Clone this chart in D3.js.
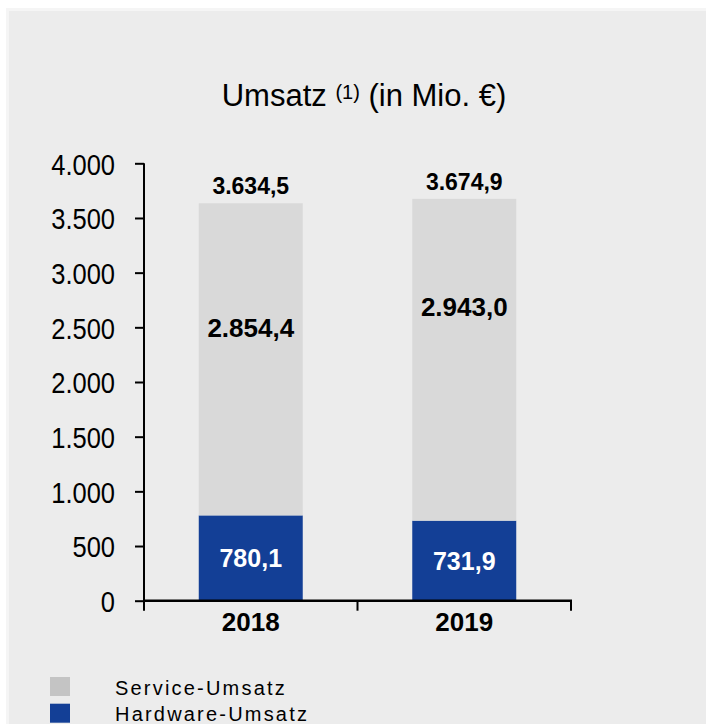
<!DOCTYPE html>
<html>
<head>
<meta charset="utf-8">
<script src="https://cdn.jsdelivr.net/npm/d3@7"></script>
<style>
  body { margin: 0; background: #fff; }
  svg { display: block; }
</style>
</head>
<body>
<div id="chart"></div>
<script>
// data
var years = ['2018', '2019']
var hardware = [780.1, 731.9]
var service = [2854.4, 2943.0]
var totals = [3634.5, 3674.9]
var yTicks = [0, 500, 1000, 1500, 2000, 2500, 3000, 3500, 4000]
var seriesNames = ['Service-Umsatz', 'Hardware-Umsatz']

// where the service label sits (in axis units)
var serviceLabelAt = [2500, 2685]

var width = 706
var height = 724
var blue = '#133f96'
var grey = '#d9d9d9'
var greyKey = '#c4c4c4'

var de = d3.formatLocale({ decimal: ',', thousands: '.', grouping: [3], currency: ['', ' €'] })
var fmtTick = de.format(',.0f')
var fmtVal = de.format(',.1f')

var svg = d3.select('#chart').append('svg')
    .attr('width', width)
    .attr('height', height)

// panel background
svg.append('rect')
    .attr('x', 7.5).attr('y', 9.5)
    .attr('width', width).attr('height', height)
    .attr('fill', '#ececec')
    .attr('stroke', '#f5f5f5')
    .attr('stroke-width', 3)

// title
var title = svg.append('text')
    .attr('x', 364)
    .attr('y', 106)
    .attr('text-anchor', 'middle')
    .style('font-family', 'Liberation Sans, Arial, sans-serif')
    .style('font-size', '31px')
    .attr('fill', '#000')
title.append('tspan').text('Umsatz ')
title.append('tspan').attr('dy', -7).style('font-size', '20px').text('(1)')
title.append('tspan').attr('dy', 7).text(' (in Mio. €)')

var y = d3.scaleLinear().domain([0, 4000]).range([600.7, 163.3])
var x = d3.scaleBand().domain(years).range([144, 571]).padding(0)
var barW = x.bandwidth() * 0.487

// y axis (labels squeezed to look like a narrow face)
var yAxis = svg.append('g')
    .attr('transform', 'translate(144,0)')
    .call(d3.axisLeft(y).tickValues(yTicks).tickFormat(fmtTick).tickSize(9).tickPadding(20))
yAxis.select('.domain').attr('d', 'M0,' + y(4000) + 'V' + y(0)).attr('stroke-width', 2)
yAxis.selectAll('.tick line').attr('stroke-width', 2)
yAxis.selectAll('.tick text')
    .attr('x', 0)
    .attr('transform', 'translate(-29,0) scale(0.85,1)')
    .style('font-family', 'Liberation Sans, Arial, sans-serif')
    .style('font-size', '30px')
    .attr('fill', '#000')
    .attr('dy', '0.36em')

// bars
var bars = svg.append('g')
bars.selectAll('rect.hw')
    .data(years)
    .enter().append('rect')
    .attr('class', 'hw')
    .attr('x', function (d) { return x(d) + (x.bandwidth() - barW) / 2 })
    .attr('width', barW)
    .attr('y', function (d, i) { return y(hardware[i]) })
    .attr('height', function (d, i) { return y(0) - y(hardware[i]) })
    .attr('fill', blue)
bars.selectAll('rect.sv')
    .data(years)
    .enter().append('rect')
    .attr('class', 'sv')
    .attr('x', function (d) { return x(d) + (x.bandwidth() - barW) / 2 })
    .attr('width', barW)
    .attr('y', function (d, i) { return y(hardware[i] + service[i]) })
    .attr('height', function (d, i) { return y(hardware[i]) - y(hardware[i] + service[i]) })
    .attr('fill', grey)

// x axis: line with ticks on the category edges
var xAxis = svg.append('g').attr('transform', 'translate(0,' + y(0) + ')')
xAxis.append('line')
    .attr('x1', 143).attr('x2', 572)
    .attr('stroke', '#000').attr('stroke-width', 2.5)
var edges = years.map(function (d) { return x(d) }).concat([x.range()[1]])
xAxis.selectAll('line.edge')
    .data(edges)
    .enter().append('line')
    .attr('class', 'edge')
    .attr('x1', function (d) { return d }).attr('x2', function (d) { return d })
    .attr('y1', 0).attr('y2', 10)
    .attr('stroke', '#000').attr('stroke-width', 2)
xAxis.selectAll('text')
    .data(years)
    .enter().append('text')
    .attr('x', function (d) { return x(d) + x.bandwidth() / 2 })
    .attr('y', 30)
    .attr('text-anchor', 'middle')
    .style('font-family', 'Liberation Sans, Arial, sans-serif')
    .style('font-size', '26px')
    .style('font-weight', 'bold')
    .text(function (d) { return d })

// value labels
var labels = svg.append('g')
    .style('font-family', 'Liberation Sans, Arial, sans-serif')
    .style('font-weight', 'bold')
    .attr('text-anchor', 'middle')
labels.selectAll('text.total')
    .data(years)
    .enter().append('text')
    .attr('class', 'total')
    .attr('x', function (d) { return x(d) + x.bandwidth() / 2 })
    .attr('y', function (d, i) { return y(totals[i]) - 9 })
    .style('font-size', '23px')
    .text(function (d, i) { return fmtVal(totals[i]) })
labels.selectAll('text.sv')
    .data(years)
    .enter().append('text')
    .attr('class', 'sv')
    .attr('x', function (d) { return x(d) + x.bandwidth() / 2 })
    .attr('y', function (d, i) { return y(serviceLabelAt[i]) })
    .attr('dy', '0.36em')
    .style('font-size', '26px')
    .text(function (d, i) { return fmtVal(service[i]) })
labels.selectAll('text.hw')
    .data(years)
    .enter().append('text')
    .attr('class', 'hw')
    .attr('x', function (d) { return x(d) + x.bandwidth() / 2 })
    .attr('y', function (d, i) { return y(hardware[i] / 2) })
    .attr('dy', '0.36em')
    .attr('fill', '#fff')
    .style('font-size', '25px')
    .text(function (d, i) { return fmtVal(hardware[i]) })

// legend
var legend = svg.append('g')
var keys = legend.selectAll('g')
    .data(seriesNames)
    .enter().append('g')
    .attr('transform', function (d, i) { return 'translate(50,' + (677 + i * 26.7) + ')' })
keys.append('rect')
    .attr('width', 20).attr('height', 19)
    .attr('fill', function (d, i) { return i === 0 ? greyKey : blue })
keys.append('text')
    .attr('x', 65).attr('y', 17.5)
    .style('font-family', 'Liberation Sans, Arial, sans-serif')
    .style('font-size', '20px')
    .style('letter-spacing', '2.2px')
    .text(function (d) { return d })
</script>
</body>
</html>
